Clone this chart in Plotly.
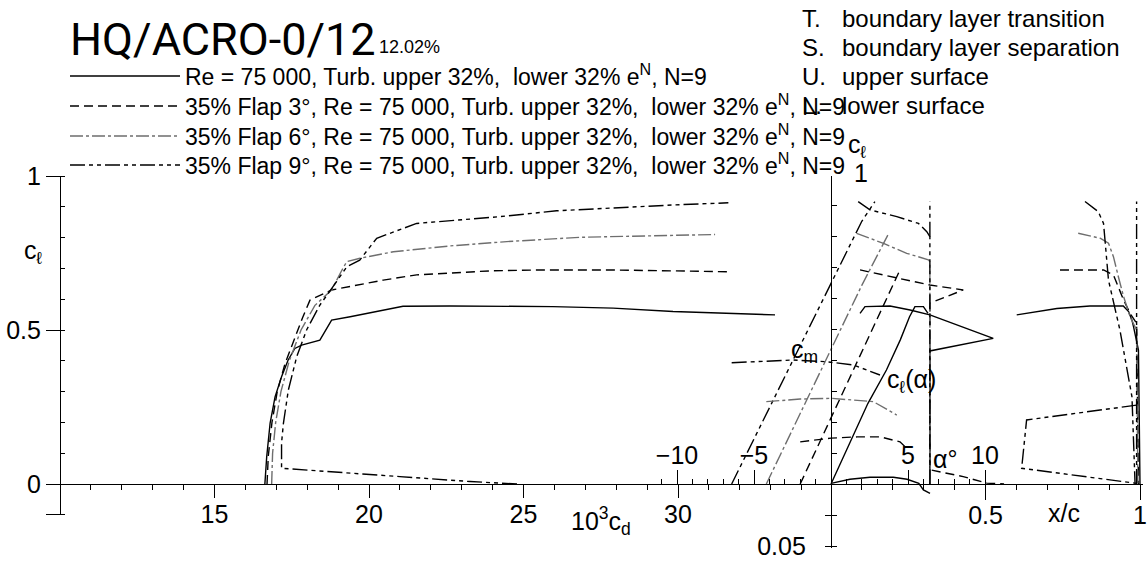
import plotly.graph_objects as go

W, H = 1147, 562

# ---------------- data ----------------
SERIES_NAMES = [
    "Re = 75 000, Turb. upper 32%,\u00a0 lower 32% e<sup>N</sup>, N=9",
    "35% Flap 3°, Re = 75 000, Turb. upper 32%,\u00a0 lower 32% e<sup>N</sup>, N=9",
    "35% Flap 6°, Re = 75 000, Turb. upper 32%,\u00a0 lower 32% e<sup>N</sup>, N=9",
    "35% Flap 9°, Re = 75 000, Turb. upper 32%,\u00a0 lower 32% e<sup>N</sup>, N=9",
]

# drag polars: 10^3 cd  vs  cl
CD_F0 = [16.63, 16.69, 16.80, 16.96, 17.17, 17.38, 17.60, 17.82, 18.41, 18.79, 19.39, 21.10, 22.62, 25.95, 27.90, 29.84, 33.14]
CL_F0 = [0.000, 0.089, 0.198, 0.283, 0.348, 0.402, 0.440, 0.451, 0.467, 0.532, 0.543, 0.577, 0.578, 0.576, 0.571, 0.560, 0.549]
CD_F3 = [16.70, 16.74, 16.86, 17.03, 17.28, 17.58, 17.85, 18.09, 18.79, 19.06, 20.46, 21.54, 22.62, 23.92, 25.53, 27.69, 29.85, 31.63]
CL_F3 = [0.000, 0.090, 0.200, 0.300, 0.390, 0.470, 0.540, 0.597, 0.630, 0.635, 0.662, 0.679, 0.684, 0.692, 0.695, 0.695, 0.692, 0.689]
CD_F6 = [16.85, 16.88, 16.98, 17.15, 17.42, 17.80, 18.25, 18.79, 19.10, 19.28, 19.71, 20.79, 22.62, 24.46, 26.83, 29.31, 31.20]
CL_F6 = [0.000, 0.100, 0.200, 0.300, 0.400, 0.500, 0.580, 0.630, 0.690, 0.722, 0.733, 0.754, 0.773, 0.787, 0.801, 0.806, 0.810]
CD_F9 = [24.79, 23.27, 21.00, 19.39, 17.17, 17.17, 17.23, 17.39, 17.66, 17.98, 18.41, 18.83, 19.28, 19.70, 20.25, 21.54, 22.62, 24.24, 26.07, 28.12, 29.85, 31.63]
CL_F9 = [0.000, 0.008, 0.024, 0.036, 0.051, 0.133, 0.197, 0.305, 0.413, 0.500, 0.581, 0.640, 0.705, 0.727, 0.798, 0.846, 0.855, 0.868, 0.887, 0.898, 0.906, 0.913]

# lift curves: alpha (deg) vs cl
AL_F0 = [0.0, 1.2, 2.4, 3.6, 4.5, 5.1, 5.45, 6.0, 6.3]
CLA_F0 = [0.0, 0.132, 0.262, 0.370, 0.468, 0.543, 0.576, 0.576, 0.554]
AL_F3 = [-2.0, 0.0, 2.0, 4.48]
CLA_F3 = [0.0, 0.214, 0.428, 0.695]
AL_F6 = [-4.2, -2.0, 0.0, 2.0, 3.75]
CLA_F6 = [0.0, 0.229, 0.437, 0.645, 0.814]
AL_F9 = [-6.45, -4.0, -2.0, 0.0, 2.0, 2.85]
CLA_F9 = [0.0, 0.247, 0.449, 0.651, 0.853, 0.917]

# moment curves: alpha (deg) vs cm
AM_F0 = [0.0, 1.23, 2.53, 4.05, 4.94, 5.7, 6.0, 6.43]
CM_F0 = [-0.0005, -0.0038, -0.0054, -0.0054, -0.0038, -0.0006, 0.0048, 0.0075]
AM_F3 = [-2.0, 0.0, 1.7, 3.2, 4.48, 4.9]
CM_F3 = [-0.034, -0.037, -0.038, -0.038, -0.034, -0.029]
AM_F6 = [-4.2, -2.0, 0.0, 2.75, 4.27]
CM_F6 = [-0.0664, -0.0685, -0.0691, -0.0664, -0.0556]
AM_F9 = [-6.45, -2.45, -0.28, 1.45, 3.18]
CM_F9 = [-0.0978, -0.100, -0.0986, -0.096, -0.0879]

# transition location x/c vs cl
XT_F0 = [0.094, 0.11, 0.191, 0.256, 0.32, 0.525, 0.32, 0.32]
CT_F0 = [0.554, 0.576, 0.578, 0.565, 0.549, 0.473, 0.432, 0.0]
XT_F3 = [0.094, 0.213, 0.32, 0.428, 0.32, 0.32, None, 0.326, 0.428, 0.504, 0.56]
CT_F3 = [0.695, 0.668, 0.646, 0.63, 0.587, 0.0, None, 0.045, 0.024, 0.003, 0.0]
XT_F6 = [0.083, 0.17, 0.245, 0.315, 0.32, 0.32]
CT_F6 = [0.814, 0.781, 0.749, 0.728, 0.722, 0.0]
XT_F9 = [0.088, 0.126, 0.213, 0.283, 0.31, 0.32, 0.32, None, 0.32, 0.32]
CT_F9 = [0.917, 0.89, 0.868, 0.846, 0.819, 0.803, 0.0, None, 0.803, 0.917]

# separation location x/c vs cl
XS_F0 = [0.601, 0.731, 0.838, 0.946, 0.963, 0.974, 0.979, 0.995, 1.0]
CS_F0 = [0.549, 0.570, 0.578, 0.578, 0.560, 0.532, 0.511, 0.435, 0.0]
XS_F3 = [0.741, 0.882, 0.914, 0.93, 0.947, 0.968, 0.989, 0.995]
CS_F3 = [0.695, 0.695, 0.679, 0.641, 0.597, 0.554, 0.522, 0.0]
XS_F6 = [0.80, 0.871, 0.898, 0.914, 0.93, 0.947, 0.968, 0.989, 0.993]
CS_F6 = [0.814, 0.798, 0.782, 0.738, 0.673, 0.608, 0.543, 0.5, 0.0]
XS_F9 = [0.822, 0.865, 0.882, 0.887, 0.898, 0.935, 0.974, 0.984, None,
         0.989, 0.633, 0.617, 0.989, None, 0.989, 0.989]
CS_F9 = [0.917, 0.884, 0.846, 0.792, 0.662, 0.5, 0.283, 0.0, None,
         0.256, 0.208, 0.051, 0.002, None, 0.0, 0.917]

# tick labels
CD_TICKS = [15, 20, 25, 30]
CL_TICKS = [-0.1, 0, 0.5, 1]
CL_TICKTEXT = ["", "0", "0.5", "1"]
ALPHA_TICKS = [-10, -5, 5, 10]
XC_TICKS = [0.5, 1]
XC_TICKTEXT = ["0.5", "1"]
CM_TICKS = [0.025, 0.05]
CM_TICKTEXT = ["", "0.05"]

# ---------------- styles ----------------
COLORS = ["#000000", "#000000", "#6e6e6e", "#000000"]
DASHES = ["solid", "9px,5px", "13px,3px,3px,3px", "15px,4px,4px,4px,4px,4px"]
LW = 1.4

TEXT_FONT = dict(family="Liberation Sans, Arial, sans-serif", size=23, color="black")
NUM_FONT = dict(family="Liberation Sans, Arial, sans-serif", size=25, color="black")

# ---------------- geometry (pixels of the 1147x562 page) ----------------
Y_ZERO = 484          # cl = 0, cm = 0
PX_CL = 308.0         # pixels per unit cl
X_CD10 = 60           # 10^3 cd = 10
PX_CD = 30.9          # pixels per unit 10^3 cd
X_A0 = 831            # alpha = 0, x/c = 0
PX_DEG = 15.4
PX_XC = 309.0
PX_CM = 1240.0


def fx(p):
    return p / W


def fy(p):
    return 1 - p / H


series = [
    (CD_F0, CL_F0, AL_F0, CLA_F0, AM_F0, CM_F0, XT_F0, CT_F0, XS_F0, CS_F0),
    (CD_F3, CL_F3, AL_F3, CLA_F3, AM_F3, CM_F3, XT_F3, CT_F3, XS_F3, CS_F3),
    (CD_F6, CL_F6, AL_F6, CLA_F6, AM_F6, CM_F6, XT_F6, CT_F6, XS_F6, CS_F6),
    (CD_F9, CL_F9, AL_F9, CLA_F9, AM_F9, CM_F9, XT_F9, CT_F9, XS_F9, CS_F9),
]

fig = go.Figure()
for i, (cd, cl, al, cla, am, cm, xt, ct, xs, cs) in enumerate(series):
    line = dict(color=COLORS[i], width=LW, dash=DASHES[i])
    leg = "legend" if i == 0 else f"legend{i + 1}"
    fig.add_trace(go.Scatter(x=cd, y=cl, xaxis="x", yaxis="y", mode="lines", line=line,
                             name=SERIES_NAMES[i], legend=leg, showlegend=True))
    fig.add_trace(go.Scatter(x=al, y=cla, xaxis="x2", yaxis="y", mode="lines", line=line, showlegend=False))
    fig.add_trace(go.Scatter(x=am, y=cm, xaxis="x2", yaxis="y2", mode="lines", line=line, showlegend=False))
    fig.add_trace(go.Scatter(x=xt, y=ct, xaxis="x3", yaxis="y", mode="lines", line=line, showlegend=False))
    fig.add_trace(go.Scatter(x=xs, y=cs, xaxis="x3", yaxis="y", mode="lines", line=line, showlegend=False))

axis_common = dict(showgrid=False, zeroline=False, linecolor="black", linewidth=1.2,
                   tickcolor="black", tickwidth=1.2, tickfont=NUM_FONT, anchor="free",
                   automargin=False)

xpos = (H - Y_ZERO) / H
fig.update_layout(
    width=W, height=H, margin=dict(l=0, r=0, t=0, b=0, pad=0, autoexpand=False),
    paper_bgcolor="white", plot_bgcolor="rgba(0,0,0,0)", hovermode=False,
    xaxis=dict(axis_common, domain=[fx(X_CD10), fx(X_A0)],
               range=[10, 10 + (X_A0 - X_CD10) / PX_CD], position=xpos,
               showline=True, ticks="outside", ticklen=13, tickmode="array", tickvals=CD_TICKS,
               ticklabelstandoff=-5,
               minor=dict(tickmode="linear", tick0=0, dtick=1, ticks="outside", ticklen=5,
                          tickcolor="black", tickwidth=1.2)),
    xaxis2=dict(axis_common, domain=[fx(X_A0 - 11.05 * PX_DEG), fx(X_A0 + 10.05 * PX_DEG)],
                range=[-11.05, 10.05], position=xpos, side="top",
                showline=False, ticks="outside", ticklen=14, tickmode="array", tickvals=ALPHA_TICKS,
                ticklabelstandoff=-4,
                minor=dict(tickmode="linear", tick0=0, dtick=1, ticks="outside", ticklen=5,
                           tickcolor="black", tickwidth=1.2)),
    xaxis3=dict(axis_common, domain=[fx(X_A0), fx(X_A0 + PX_XC + 3)],
                range=[0, 1 + 3 / PX_XC], position=xpos,
                showline=True, ticks="outside", ticklen=15, tickmode="array",
                tickvals=XC_TICKS, ticktext=XC_TICKTEXT, ticklabelstandoff=-6,
                minor=dict(tickmode="linear", tick0=0, dtick=0.1, ticks="outside", ticklen=5,
                           tickcolor="black", tickwidth=1.2)),
    yaxis=dict(axis_common, domain=[fy(Y_ZERO + 0.1 * PX_CL), fy(Y_ZERO - 1.0 * PX_CL)],
               range=[-0.1, 1.0], position=fx(X_CD10),
               showline=True, ticks="outside", ticklen=14, tickmode="array",
               tickvals=CL_TICKS, ticktext=CL_TICKTEXT,
               minor=dict(tickmode="linear", tick0=0, dtick=0.1, ticks="inside", ticklen=4,
                          tickcolor="black", tickwidth=1.2)),
    yaxis2=dict(axis_common, domain=[fy(548), fy(Y_ZERO - 1.0 * PX_CL)],
                range=[(548 - Y_ZERO) / PX_CM, -(1.0 * PX_CL) / PX_CM], position=fx(X_A0),
                showline=True, ticks="outside", ticklen=6, tickmode="array",
                tickvals=CM_TICKS, ticktext=CM_TICKTEXT, ticklabelstandoff=14,
                minor=dict(tickmode="linear", tick0=0, dtick=0.025, ticks="inside", ticklen=5,
                           tickcolor="black", tickwidth=1.2)),
)

# legends (one per row so that the row pitch matches)
ROW_Y = [76, 106, 136, 165]
for i, ry in enumerate(ROW_Y):
    key = "legend" if i == 0 else f"legend{i + 1}"
    fig.update_layout({key: dict(x=fx(65), y=fy(ry), xanchor="left", yanchor="middle",
                                 bgcolor="rgba(0,0,0,0)", borderwidth=0, itemwidth=110,
                                 font=TEXT_FONT, itemclick=False, itemdoubleclick=False)})

ann = []


def add_text(text, x, y, font, xanchor="center", yanchor="middle"):
    ann.append(dict(text=text, x=fx(x), y=fy(y), xref="paper", yref="paper",
                    xanchor=xanchor, yanchor=yanchor, showarrow=False, font=font))


add_text("HQ/ACRO-0/12", 68, 40, dict(family="Roboto, Liberation Sans, sans-serif", size=45, color="black"), xanchor="left")
add_text("12.02%", 377, 47, dict(TEXT_FONT, size=18), xanchor="left")
for k, (letter, txt) in enumerate([("T.", "boundary layer transition"), ("S.", "boundary layer separation"),
                                   ("U.", "upper surface"), ("L.", "lower surface")]):
    add_text(letter, 800, 18 + 29.3 * k, dict(TEXT_FONT, size=24), xanchor="left")
    add_text(txt, 840, 18 + 29.3 * k, dict(TEXT_FONT, size=24), xanchor="left")

add_text("c<sub>ℓ</sub>", 33, 252, NUM_FONT)
add_text("10<sup>3</sup>c<sub>d</sub>", 601, 521, NUM_FONT)
add_text("α°", 945, 459, NUM_FONT)
add_text("x/c", 1064, 513, NUM_FONT)
add_text("c<sub>m</sub>", 804, 351, NUM_FONT)
add_text("c<sub>ℓ</sub>(α)", 911, 381, NUM_FONT)
add_text("c<sub>ℓ</sub>", 857, 146, NUM_FONT)
add_text("1", 861, 173, NUM_FONT)

fig.update_layout(annotations=ann)
fig.write_html("out.html")
